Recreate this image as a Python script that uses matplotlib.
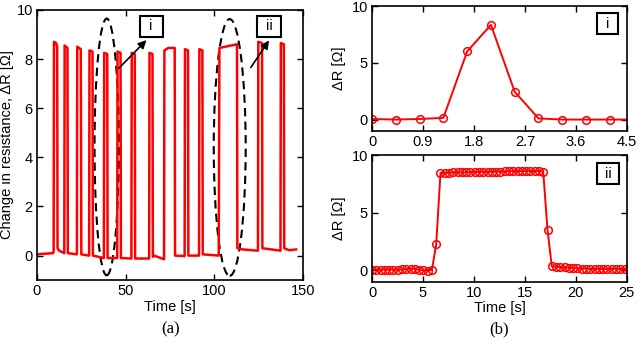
import matplotlib
matplotlib.use("Agg")
import matplotlib.pyplot as plt
from matplotlib.patches import Ellipse, Rectangle

plt.rcParams['font.family'] = ['Liberation Sans', 'DejaVu Sans']

# ---- panel (a): full trace vertices (time [s], dR [Ohm]) ----
t_a = [0, 9.0, 9.4, 9.6, 10.8, 11.4, 11.6, 12.5, 15.4, 15.6, 17.2, 17.4,
       22.5, 22.7, 24.7, 25.0, 29.4, 29.6, 31.3, 31.5, 37.7, 37.9, 39.6, 39.8,
       45.2, 45.4, 47.1, 47.3, 53.2, 53.4, 55.1, 55.3, 63.2, 63.4, 65.1, 65.3,
       66.0, 71.6, 71.8, 74.0, 77.6, 77.8, 83.2, 83.4, 85.1, 85.3, 91.3, 91.5,
       93.2, 93.4, 102.4, 102.8, 112.7, 112.9, 116.0, 124.5, 124.7, 126.8, 127.0,
       137.2, 137.4, 139.1, 139.3, 142.0, 146.0]
r_a = [0.05, 0.1, 0.15, 8.7, 8.65, 8.5, 0.3, 0.2, 0.1, 8.55, 8.45, 0.1,
       0.05, 8.5, 8.4, 0.05, 0.0, 8.35, 8.3, 0.0, -0.1, 8.25, 8.2, -0.1,
       -0.1, 8.3, 8.25, -0.1, -0.12, 8.25, 8.2, -0.12, -0.12, 8.25, 8.2, -0.05,
       0.0, -0.15, 8.35, 8.45, 8.45, 0.0, -0.02, 8.4, 8.35, 0.0, 0.0, 8.4,
       8.35, 0.05, 0.0, 8.45, 8.6, 0.3, 0.25, 0.2, 8.7, 8.65, 0.3,
       0.2, 8.65, 8.6, 0.3, 0.22, 0.25]

# ---- panel (b)-i ----
t_i = [0, 0.42, 0.84, 1.26, 1.68, 2.10, 2.52, 2.94, 3.36, 3.78, 4.20, 4.62]
r_i = [0.05, 0.0, 0.05, 0.15, 6.0, 8.35, 2.45, 0.1, 0.0, 0.0, 0.0, 0.0]

# ---- panel (b)-ii ----
t_ii = [0.0, 0.42, 0.84, 1.26, 1.68, 2.10, 2.52, 2.94, 3.36, 3.78, 4.20, 4.62,
        5.04, 5.46, 5.88, 6.30, 6.72, 7.14, 7.56, 7.98, 8.40, 8.82, 9.24, 9.66,
        10.08, 10.50, 10.92, 11.34, 11.76, 12.18, 12.60, 13.02, 13.44, 13.86,
        14.28, 14.70, 15.12, 15.54, 15.96, 16.38, 16.80, 17.22, 17.64, 18.06,
        18.48, 18.90, 19.32, 19.74, 20.16, 20.58, 21.00, 21.42, 21.84, 22.26,
        22.68, 23.10, 23.52, 23.94, 24.36, 24.78, 25.20]
r_ii = [0.05, 0.05, 0.05, 0.05, 0.05, 0.05, 0.05, 0.08, 0.12, 0.15, 0.12, 0.05,
        0.0, -0.02, 0.05, 2.25, 8.45, 8.45, 8.45, 8.5, 8.5, 8.5, 8.5, 8.52,
        8.52, 8.52, 8.55, 8.55, 8.55, 8.55, 8.55, 8.58, 8.6, 8.6,
        8.6, 8.6, 8.62, 8.62, 8.62, 8.62, 8.55, 3.5, 0.35, 0.3,
        0.28, 0.25, 0.22, 0.2, 0.18, 0.15, 0.15, 0.12, 0.12, 0.12,
        0.12, 0.12, 0.12, 0.12, 0.12, 0.12, 0.12]

RED = '#ff0000'

fig = plt.figure(figsize=(6.37, 3.40), dpi=100)

def style(ax):
    ax.tick_params(direction='in', top=True, right=True, labelsize=10.5,
                   length=4, width=1, pad=3)
    for s in ax.spines.values():
        s.set_linewidth(1.2)

def label_box(ax, x0, x1, y0, y1, txt):
    ax.add_patch(Rectangle((x0, y0), x1 - x0, y1 - y0, fill=True, fc='white',
                           ec='black', lw=1.5, zorder=5))
    ax.text((x0 + x1) / 2, (y0 + y1) / 2, txt, ha='center', va='center',
            fontsize=10.5, zorder=6)

# panel (a)
axa = fig.add_axes([0.058, 0.176, 0.418, 0.795])
axa.plot(t_a, r_a, color=RED, lw=1.8)
axa.set_xlim(0, 150)
axa.set_ylim(-1, 10)
axa.set_xticks([0, 50, 100, 150])
axa.set_yticks([0, 2, 4, 6, 8, 10])
axa.set_xlabel('Time [s]', fontsize=10.5, labelpad=1)
axa.set_ylabel('Change in resistance, \u0394R [\u03a9]', fontsize=10.5, labelpad=2)
style(axa)
axa.add_patch(Ellipse((39.3, 4.42), 13.7, 10.45, fill=False, ls=(0, (4, 2.5)),
                      lw=1.5, ec='black'))
axa.add_patch(Ellipse((108.6, 4.4), 18.0, 10.45, fill=False, ls=(0, (4, 2.5)),
                      lw=1.5, ec='black'))
axa.annotate('', xy=(62.8, 8.85), xytext=(45.0, 7.54),
             arrowprops=dict(arrowstyle='-|>', color='black', lw=1.2, mutation_scale=12))
axa.annotate('', xy=(131.6, 8.85), xytext=(119.6, 7.56),
             arrowprops=dict(arrowstyle='-|>', color='black', lw=1.2, mutation_scale=12))
label_box(axa, 57.8, 70.8, 8.9, 9.75, 'i')
label_box(axa, 124.0, 137.5, 8.9, 9.75, 'ii')
fig.text(0.267, 0.03, '(a)', ha='center', va='center', fontsize=12,
         family=['Liberation Serif'])

# panel (b)-i
axi = fig.add_axes([0.584, 0.615, 0.400, 0.367])
axi.plot(t_i, r_i, color=RED, lw=1.4, marker='o', ms=5.5, mfc='none', mec=RED,
         mew=1.1)
axi.set_xlim(0, 4.5)
axi.set_ylim(-1, 10)
axi.set_xticks([0, 0.9, 1.8, 2.7, 3.6, 4.5])
axi.set_xticklabels(['0', '0.9', '1.8', '2.7', '3.6', '4.5'])
axi.set_yticks([0, 5, 10])
axi.set_ylabel('\u0394R [\u03a9]', fontsize=10.5, labelpad=4)
style(axi)
label_box(axi, 3.98, 4.35, 7.5, 9.35, 'i')

# panel (b)-ii
axii = fig.add_axes([0.584, 0.171, 0.400, 0.373])
axii.plot(t_ii, r_ii, color=RED, lw=1.4, marker='o', ms=5.5, mfc='none', mec=RED,
          mew=1.1)
axii.set_xlim(0, 25)
axii.set_ylim(-1, 10)
axii.set_xticks([0, 5, 10, 15, 20, 25])
axii.set_yticks([0, 5, 10])
axii.set_xlabel('Time [s]', fontsize=10.5, labelpad=1)
axii.set_ylabel('\u0394R [\u03a9]', fontsize=10.5, labelpad=4)
style(axii)
label_box(axii, 22.1, 24.2, 7.46, 9.27, 'ii')
fig.text(0.784, 0.03, '(b)', ha='center', va='center', fontsize=12,
         family=['Liberation Serif'])

fig.savefig('out.png', dpi=100)
